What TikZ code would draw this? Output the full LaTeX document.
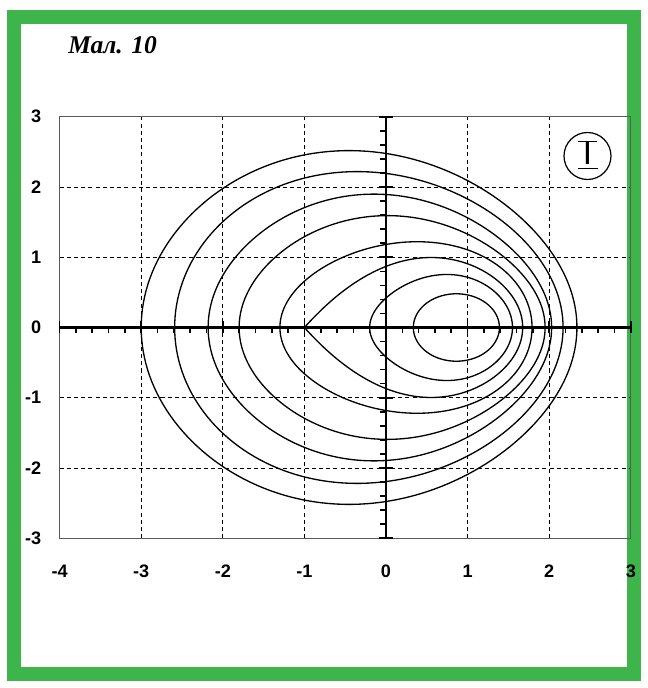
\documentclass[tikz,border=0pt]{standalone}
\usepackage{fontspec}
\setmainfont{Liberation Serif}
\newfontfamily\labfont{Liberation Sans}
\definecolor{framegreen}{RGB}{61,181,74}
\definecolor{boxgray}{RGB}{90,90,90}
\begin{document}
\begin{tikzpicture}[
  curve/.style={line width=0.75pt},
  gridline/.style={line width=0.55pt, dash pattern=on 2.3pt off 1.8pt},
  axisline/.style={line width=1.4pt},
  tickmark/.style={line width=0.9pt},
  axlabel/.style={font=\labfont\bfseries\fontsize{10.3}{12}\selectfont, inner sep=0pt},
]
\useasboundingbox (0,0) rectangle (12.96,13.76);
\fill[white] (0,0) rectangle (12.96,13.76);
% green frame
\draw[framegreen, line width=0.28cm] (0.28,0.28) rectangle (12.68,13.42);
% title
\node[anchor=base west, font=\bfseries\itshape\fontsize{14.5}{17}\selectfont, inner sep=0pt] (title) at (1.36,12.68) {Мал. 10};

\begin{scope}[shift={(7.72,7.21)}, x=1.632cm, y=1.405cm]
  % grid
  \foreach \gx in {-3,-2,-1,1,2} \draw[gridline] (\gx,-3) -- (\gx,3);
  \foreach \gy in {-2,-1,1,2} \draw[gridline] (-4,\gy) -- (3,\gy);
  % level curves
  \foreach \m/\h/\a/\b/\c in {
     -0.33/2.67/0.935/-0.02375/-0.008125,
     -0.21/2.38/0.925/-0.0275/-0.005,
     -0.075/2.105/0.9/-0.02/-0.0175,
     0.075/1.875/0.85/-0.0133/-0.0222,
     0.245/1.545/0.775/0.05/-0.005,
     0.675/0.875/0.754/0.218/-0.092,
     0.8625/0.5275/0.91/0/0}
  {
    \draw[curve] plot[domain=0:360, samples=181, variable=\t]
      ({\m+\h*cos(\t)}, {(\a+\b*(\m+\h*cos(\t))+\c*(\m+\h*cos(\t))*(\m+\h*cos(\t)))*\h*sin(\t)}) -- cycle;
  }
  % curve through the cusp at (-1,0)
  \draw[curve] plot[domain=0:360, samples=181, variable=\t]
      ({0.3375+1.3375*cos(\t)}, {(0.672-0.12*(0.3375+1.3375*cos(\t)))*2.1875*abs(cos(\t/2))*sin(\t)});
  % plot frame
  \draw[boxgray, line width=0.7pt] (-4,-3) rectangle (3,3);
  % axes
  \draw[axisline] (-4,0) -- (3,0);
  \draw[axisline] (0,-3) -- (0,3);
  \foreach \i in {0,...,35} {
    \pgfmathsetmacro\xx{-4+0.2*\i}
    \draw[tickmark] (\xx,0) -- ++(0,-0.11cm);
  }
  \foreach \i in {0,...,30} {
    \pgfmathsetmacro\yy{-3+0.2*\i}
    \draw[tickmark] (0,\yy) -- ++(-0.12cm,0);
  }
  \foreach \x in {-4,...,3} \draw[tickmark] (\x,0) ++(0,0.12cm) -- ++(0,-0.23cm);
  \foreach \y in {-3,...,3} \draw[tickmark] (0,\y) ++(-0.14cm,0) -- ++(0.28cm,0);
  % labels
  \foreach \x [count=\k] in {-4,...,3} \node[axlabel] (xl\k) at (\x,-3.47) {\x};
  \foreach \y [count=\k] in {-3,...,3} \node[axlabel, anchor=east] (yl\k) at (-4.22,\y) {\y};
\end{scope}

% circled mark
\draw[line width=0.7pt] (11.75,10.64) circle (0.47);
\node[font=\labfont\fontsize{19}{22}\selectfont, inner sep=0pt] (mark) at (11.75,10.70) {I};
\draw[line width=0.7pt] ([xshift=-0.19cm]mark.north) -- ([xshift=0.19cm]mark.north);
\draw[line width=0.7pt] ([xshift=-0.2cm,yshift=-0.08cm]mark.south) -- ([xshift=0.2cm,yshift=-0.08cm]mark.south);
\end{tikzpicture}
\end{document}
